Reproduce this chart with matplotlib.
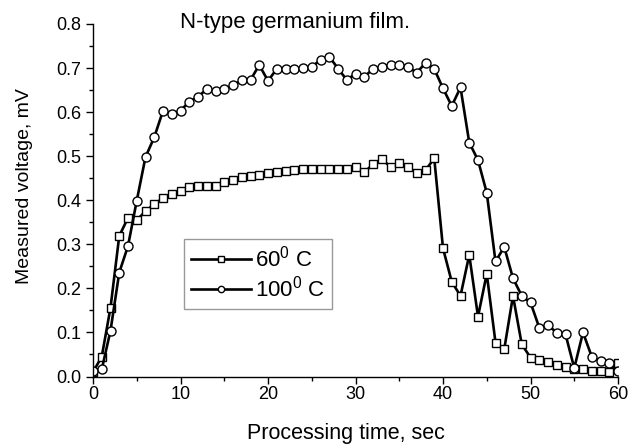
import numpy as np
import matplotlib
matplotlib.use('Agg')
import matplotlib.pyplot as plt
from matplotlib.ticker import MultipleLocator, FormatStrFormatter

plt.rcParams['font.family'] = ['Liberation Sans', 'DejaVu Sans']
plt.rcParams['mathtext.fontset'] = 'custom'
plt.rcParams['mathtext.rm'] = 'Liberation Sans'
plt.rcParams['mathtext.it'] = 'Liberation Sans'

# processing time, sec (one reading per second)
time_s = list(range(0, 61))

# 60 C series (squares)
volt_60 = [0.010, 0.045, 0.156, 0.319, 0.360, 0.355, 0.375, 0.391, 0.405, 0.415,
           0.422, 0.430, 0.432, 0.432, 0.432, 0.441, 0.445, 0.453, 0.456, 0.458,
           0.462, 0.464, 0.467, 0.468, 0.470, 0.472, 0.470, 0.470, 0.470, 0.472,
           0.476, 0.463, 0.482, 0.493, 0.476, 0.485, 0.476, 0.462, 0.468, 0.495,
           0.291, 0.215, 0.183, 0.276, 0.136, 0.233, 0.077, 0.062, 0.183, 0.073,
           0.043, 0.037, 0.032, 0.025, 0.021, 0.018, 0.018, 0.013, 0.012, 0.011,
           0.030]

# 100 C series (circles)
volt_100 = [0.013, 0.016, 0.104, 0.236, 0.296, 0.399, 0.498, 0.543, 0.603, 0.596,
            0.603, 0.624, 0.635, 0.652, 0.647, 0.652, 0.661, 0.672, 0.673, 0.707,
            0.671, 0.698, 0.699, 0.699, 0.700, 0.703, 0.718, 0.726, 0.699, 0.673,
            0.687, 0.680, 0.698, 0.703, 0.708, 0.708, 0.703, 0.689, 0.712, 0.698,
            0.654, 0.614, 0.656, 0.531, 0.491, 0.417, 0.261, 0.294, 0.223, 0.183,
            0.168, 0.111, 0.117, 0.099, 0.096, 0.019, 0.100, 0.045, 0.035, 0.030,
            0.012]

fig = plt.figure(figsize=(6.3, 4.45), dpi=100)
ax = fig.add_axes([93 / 630, 68.5 / 445, 525 / 630, 352.5 / 445])

ax.plot(time_s, volt_60, color='black', lw=1.9, marker='s', ms=5.5,
        mfc='white', mec='black', mew=1, label='60$^0$ C')
ax.plot(time_s, volt_100, color='black', lw=1.9, marker='o', ms=6.5,
        mfc='white', mec='black', mew=1, label='100$^0$ C')

ax.set_xlim(0, 60)
ax.set_ylim(0, 0.8)
ax.xaxis.set_major_locator(MultipleLocator(10))
ax.xaxis.set_minor_locator(MultipleLocator(5))
ax.yaxis.set_major_locator(MultipleLocator(0.1))
ax.yaxis.set_minor_locator(MultipleLocator(0.05))
ax.yaxis.set_major_formatter(FormatStrFormatter('%.1f'))
ax.tick_params(which='major', direction='out', length=5, width=1, labelsize=13)
ax.tick_params(which='minor', direction='out', length=3, width=1)
ax.tick_params(axis='x', pad=1.5)
ax.tick_params(axis='y', pad=3.5)

for side in ['top', 'right']:
    ax.spines[side].set_visible(False)
for side in ['left', 'bottom']:
    ax.spines[side].set_linewidth(1)

ax.set_xlabel('Processing time, sec', fontsize=15.5)
ax.xaxis.set_label_coords(0.481, -0.133)
ax.set_ylabel('Measured voltage, mV', fontsize=14)
ax.yaxis.set_label_coords(-0.115, 0.54)
ax.text(23.1, 0.791, 'N-type germanium film.', fontsize=16, ha='center', va='baseline')

leg = ax.legend(loc='upper left', bbox_to_anchor=(91 / 525, (376.5 - 239) / 352.5),
                fontsize=16, handlelength=2.7, markerscale=0.7, frameon=True,
                fancybox=False, edgecolor='#808080', borderpad=0.3,
                labelspacing=0.2, handletextpad=0.2, borderaxespad=0)
leg.get_frame().set_linewidth(1)

fig.savefig('out.png', dpi=100)
